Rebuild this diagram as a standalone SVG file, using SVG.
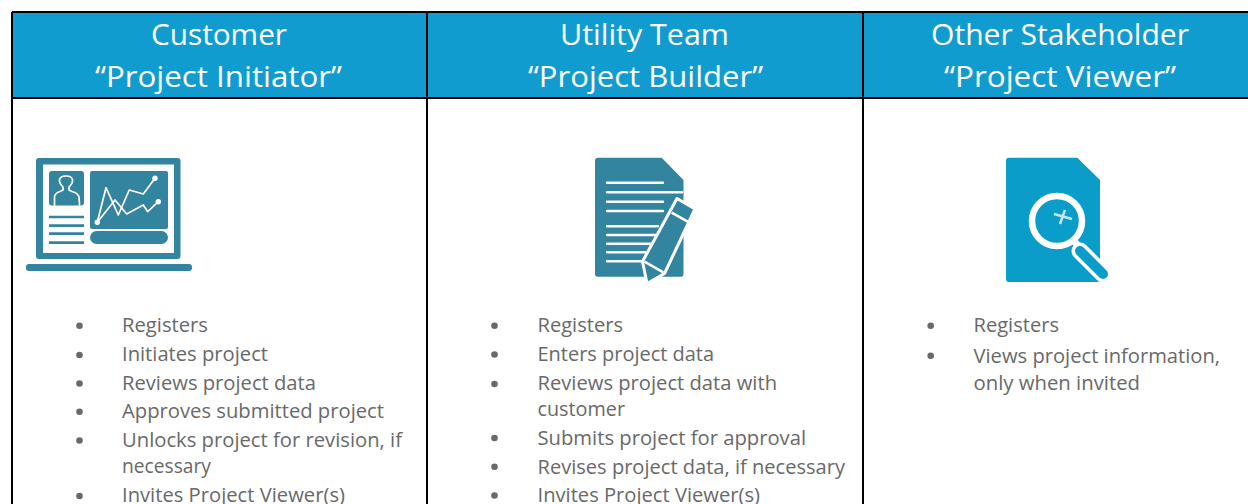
<svg xmlns="http://www.w3.org/2000/svg" width="1248" height="504" viewBox="0 0 1248 504">
<style>
.h{font-family:"Open Sans","Noto Sans",sans-serif;font-size:30px;fill:#fff;text-anchor:middle}
.t{font-family:"Open Sans","Noto Sans",sans-serif;font-size:20px;fill:#696969}
.b{fill:#696969}
.k{fill:none;stroke:#000;stroke-width:2}
.i{fill:#33849f}
.w{fill:none;stroke:#fff;stroke-linecap:round;stroke-linejoin:round}
</style>
<rect width="1248" height="504" fill="#fff"/>
<g id="headers">
<rect x="13" y="13" width="1235" height="85" fill="#119ccf"/>
<text class="h" x="219" y="45" textLength="136" lengthAdjust="spacingAndGlyphs">Customer</text>
<text class="h" x="218.500" y="87" textLength="247" lengthAdjust="spacingAndGlyphs">“Project Initiator”</text>
<text class="h" x="644.500" y="45" textLength="169" lengthAdjust="spacingAndGlyphs">Utility Team</text>
<text class="h" x="645.500" y="87" textLength="235" lengthAdjust="spacingAndGlyphs">“Project Builder”</text>
<text class="h" x="1060" y="45" textLength="258" lengthAdjust="spacingAndGlyphs">Other Stakeholder</text>
<text class="h" x="1060" y="87" textLength="232" lengthAdjust="spacingAndGlyphs">“Project Viewer”</text>
</g>
<g id="grid">
<path class="k" d="M12 12H1248M12 98H1248M12 12V504M427 12V504M863 12V504"/>
</g>
<g id="icon-customer">
<rect class="i" x="36" y="158" width="144.500" height="101" rx="3"/>
<rect x="43" y="164.500" width="131" height="88.500" fill="#fff"/>
<rect class="i" x="49" y="171" width="35" height="34.500" rx="3"/>
<path class="w" stroke-width="1.700" d="M54.500 205V197Q55 193 60 191.500L63 190V187Q59 183 59.500 180Q60 176 66 176Q72 176 72.500 180Q73 183 69 187V190L72 191.500Q78 193 79 197L79.500 205"/>
<path d="M49 217H84M49 225.700H84M49 233.700H84M49 242.700H84" stroke="#33849f" stroke-width="2.700"/>
<rect class="i" x="90" y="171" width="78" height="58" rx="2"/>
<rect class="i" x="90" y="231" width="78" height="13" rx="6.500"/>
<path class="w" stroke-width="1.700" d="M97.300 222.300L106 187.700L118.300 215L129.300 190L143.300 194L155 178.300"/>
<path class="w" stroke-width="1.700" d="M97.300 222.300L115 200L126.700 214L143.300 205L147.700 211.700L158.300 201.700"/>
<circle cx="97.300" cy="222.300" r="2.700" fill="#fff"/><circle cx="155" cy="178.300" r="2.700" fill="#fff"/><circle cx="158.300" cy="201.700" r="2.700" fill="#fff"/>
<rect class="i" x="26" y="264" width="166" height="7" rx="3"/>
</g>
<g id="icon-builder">
<path class="i" d="M598 157.700H661.700L683.500 180V274Q683.500 276.800 681 276.800H598Q595 276.800 595 274V160.700Q595 157.700 598 157.700Z"/>
<path d="M607 182.700H663M607 192.300H682M607 201.700H663M607 211H663M607 226.300H658M607 235H660M607 243.700H655M607 252.300H651M607 261.300H647" stroke="#fff" stroke-width="2.400" stroke-linecap="round"/>
<path d="M677 198.500L695 209L664.500 273.500L647 283.500L642.500 261.500Z" fill="#33849f" stroke="#fff" stroke-width="3" stroke-linejoin="round"/>
<path d="M671.700 212.700L690.700 223.300M644.500 261.700L663.300 272.300" stroke="#fff" stroke-width="2.500"/>
</g>
<g id="icon-viewer">
<path d="M1009 157.700H1077.300L1100 180V279Q1100 282 1097 282H1009Q1006 282 1006 279V160.700Q1006 157.700 1009 157.700Z" fill="#0b9dc9"/>
<circle cx="1057" cy="221" r="25" fill="none" stroke="#fff" stroke-width="6.500"/>
<path d="M1054 214L1072 219M1065 210L1060 224" stroke="#c5e5f0" stroke-width="2.500"/>
<path d="M1074 241L1082 250" stroke="#fff" stroke-width="7"/>
<path d="M1080 251L1103 274" stroke="#fff" stroke-width="17" stroke-linecap="round"/>
<path d="M1080 251L1103 274" stroke="#0b9dc9" stroke-width="10" stroke-linecap="round"/>
</g>
<g id="list-customer">
<circle class="b" cx="79.500" cy="325.700" r="3.300"/><text class="t" x="122" y="332" textLength="86" lengthAdjust="spacingAndGlyphs">Registers</text>
<circle class="b" cx="79.500" cy="355" r="3.300"/><text class="t" x="122" y="361" textLength="146" lengthAdjust="spacingAndGlyphs">Initiates project</text>
<circle class="b" cx="79.500" cy="383.500" r="3.300"/><text class="t" x="122" y="390" textLength="194" lengthAdjust="spacingAndGlyphs">Reviews project data</text>
<circle class="b" cx="79.500" cy="411.700" r="3.300"/><text class="t" x="122" y="418" textLength="262" lengthAdjust="spacingAndGlyphs">Approves submitted project</text>
<circle class="b" cx="79.500" cy="440.500" r="3.300"/><text class="t" x="122" y="446.500" textLength="280" lengthAdjust="spacingAndGlyphs">Unlocks project for revision, if</text>
<text class="t" x="122" y="473" textLength="89" lengthAdjust="spacingAndGlyphs">necessary</text>
<circle class="b" cx="79.500" cy="496" r="3.300"/><text class="t" x="122" y="501.500" textLength="223" lengthAdjust="spacingAndGlyphs">Invites Project Viewer(s)</text>
</g>
<g id="list-builder">
<circle class="b" cx="494.500" cy="325.700" r="3.300"/><text class="t" x="537.500" y="332" textLength="85.500" lengthAdjust="spacingAndGlyphs">Registers</text>
<circle class="b" cx="494.500" cy="354.500" r="3.300"/><text class="t" x="537.500" y="361" textLength="176.500" lengthAdjust="spacingAndGlyphs">Enters project data</text>
<circle class="b" cx="494.500" cy="384" r="3.300"/><text class="t" x="537.500" y="390" textLength="239.500" lengthAdjust="spacingAndGlyphs">Reviews project data with</text>
<text class="t" x="537.500" y="416" textLength="87.500" lengthAdjust="spacingAndGlyphs">customer</text>
<circle class="b" cx="494.500" cy="438" r="3.300"/><text class="t" x="537.500" y="445" textLength="268.500" lengthAdjust="spacingAndGlyphs">Submits project for approval</text>
<circle class="b" cx="494.500" cy="466.700" r="3.300"/><text class="t" x="537.500" y="474" textLength="307.500" lengthAdjust="spacingAndGlyphs">Revises project data, if necessary</text>
<circle class="b" cx="494.500" cy="495.500" r="3.300"/><text class="t" x="537.500" y="501.500" textLength="222.500" lengthAdjust="spacingAndGlyphs">Invites Project Viewer(s)</text>
</g>
<g id="list-viewer">
<circle class="b" cx="930.700" cy="325.700" r="3.300"/><text class="t" x="973.500" y="332" textLength="85.500" lengthAdjust="spacingAndGlyphs">Registers</text>
<circle class="b" cx="930.700" cy="355.700" r="3.300"/><text class="t" x="973.500" y="363" textLength="246.500" lengthAdjust="spacingAndGlyphs">Views project information,</text>
<text class="t" x="973.500" y="390" textLength="166.500" lengthAdjust="spacingAndGlyphs">only when invited</text>
</g>
</svg>
